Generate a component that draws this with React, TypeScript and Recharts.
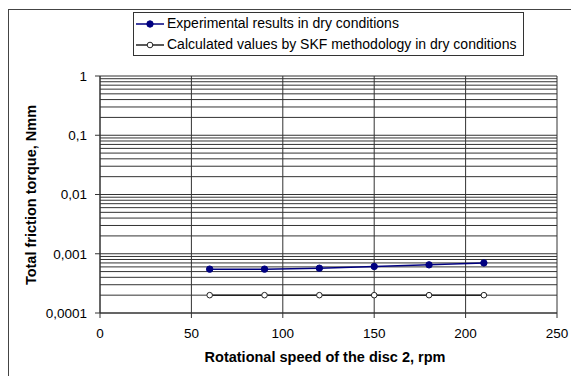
import {
  LineChart,
  Line,
  XAxis,
  YAxis,
  CartesianGrid,
  ReferenceLine,
  Label,
} from "recharts";

const SPEED = [60, 90, 120, 150, 180, 210];
const EXPERIMENTAL = [0.00055, 0.00055, 0.00057, 0.00061, 0.00065, 0.0007];
const CALCULATED = [0.0002, 0.0002, 0.0002, 0.0002, 0.0002, 0.0002];

const X_TICKS = [0, 50, 100, 150, 200, 250];
const Y_TICKS = [0.0001, 0.001, 0.01, 0.1, 1];

const SERIES_NAMES = [
  "Experimental results in dry conditions",
  "Calculated values by SKF methodology in dry conditions",
];

const data = SPEED.map((s, i) => ({
  speed: s,
  exp: EXPERIMENTAL[i],
  calc: CALCULATED[i],
}));

// minor log gridlines: 1..9 in every decade
const GRID_Y: number[] = [];
Y_TICKS.slice(0, -1).forEach((d) => {
  for (let m = 1; m <= 9; m++) GRID_Y.push(+(d * m).toPrecision(3));
});
GRID_Y.push(1);

const FONT = "'Liberation Sans', Arial, sans-serif";

function LegendBox() {
  const row = (name: string, filled: boolean, color: string) => (
    <div style={{ display: "flex", alignItems: "center", height: 21 }}>
      <svg width={30} height={10} style={{ marginRight: 2 }}>
        <line x1={1} x2={29} y1={5} y2={5} stroke={color} strokeWidth={1.5} />
        <circle
          cx={15}
          cy={5}
          r={filled ? 3.2 : 2.8}
          fill={filled ? color : "#fff"}
          stroke={color}
          strokeWidth={1}
        />
      </svg>
      <span>{name}</span>
    </div>
  );
  return (
    <div
      style={{
        position: "absolute",
        left: 133,
        top: 12,
        width: 388,
        boxSizing: "content-box",
        border: "1px solid #333",
        background: "#fff",
        padding: "0 0 0 1px",
        fontSize: 14,
        fontFamily: FONT,
        color: "#000",
        lineHeight: "21px",
      }}
    >
      {row(SERIES_NAMES[0], true, "#000080")}
      {row(SERIES_NAMES[1], false, "#222")}
    </div>
  );
}

export default function App() {
  const tick = { fill: "#000", fontSize: 13.5, fontFamily: FONT };
  return (
    <div
      style={{
        position: "fixed",
        left: 0,
        top: 0,
        width: 571,
        height: 376,
        overflow: "hidden",
        background: "#fff",
      }}
    >
      <div
        style={{
          position: "absolute",
          left: 8,
          top: 9,
          width: 700,
          height: 500,
          borderTop: "1px solid #444",
          borderLeft: "1px solid #444",
        }}
      />
      <div style={{ position: "absolute", left: 0, top: 0 }}>
        <LineChart
          width={571}
          height={376}
          data={data}
          margin={{ top: 76, right: 14, left: 40, bottom: 33 }}
          style={{ fontFamily: FONT }}
        >
          <CartesianGrid horizontal={false} stroke="#333" strokeDasharray="" />
          {GRID_Y.map((v) => (
            <ReferenceLine
              key={v}
              y={v}
              stroke="#333"
              strokeWidth={1}
              ifOverflow="visible"
            />
          ))}
          <XAxis
            dataKey="speed"
            type="number"
            domain={[0, 250]}
            ticks={X_TICKS}
            height={30}
            tick={tick}
            tickSize={5}
            tickMargin={10}
            stroke="#333"
          >
            <Label
              content={() => (
                <text
                  x={325}
                  y={362}
                  textAnchor="middle"
                  fontSize={14.5}
                  fontWeight="bold"
                  fontFamily={FONT}
                  fill="#000"
                >
                  Rotational speed of the disc 2, rpm
                </text>
              )}
            />
          </XAxis>
          <YAxis
            scale="log"
            domain={[0.0001, 1]}
            ticks={Y_TICKS}
            allowDataOverflow
            width={60}
            tick={tick}
            tickSize={5}
            tickMargin={8}
            stroke="#333"
            tickFormatter={(v: number) => String(v).replace(".", ",")}
          >
            <Label
              content={() => (
                <text
                  x={31}
                  y={195}
                  textAnchor="middle"
                  dominantBaseline="central"
                  transform="rotate(-90 31 195)"
                  fontSize={14.5}
                  fontWeight="bold"
                  fontFamily={FONT}
                  fill="#000"
                >
                  Total friction torque, Nmm
                </text>
              )}
            />
          </YAxis>
          <Line
            dataKey="calc"
            stroke="#222"
            strokeWidth={1.5}
            dot={{ r: 2.8, fill: "#fff", stroke: "#222", strokeWidth: 1 }}
            isAnimationActive={false}
          />
          <Line
            dataKey="exp"
            stroke="#000080"
            strokeWidth={1.5}
            dot={{ r: 3.2, fill: "#000080", stroke: "#000080", strokeWidth: 1 }}
            isAnimationActive={false}
          />
        </LineChart>
      </div>
      <LegendBox />
    </div>
  );
}
